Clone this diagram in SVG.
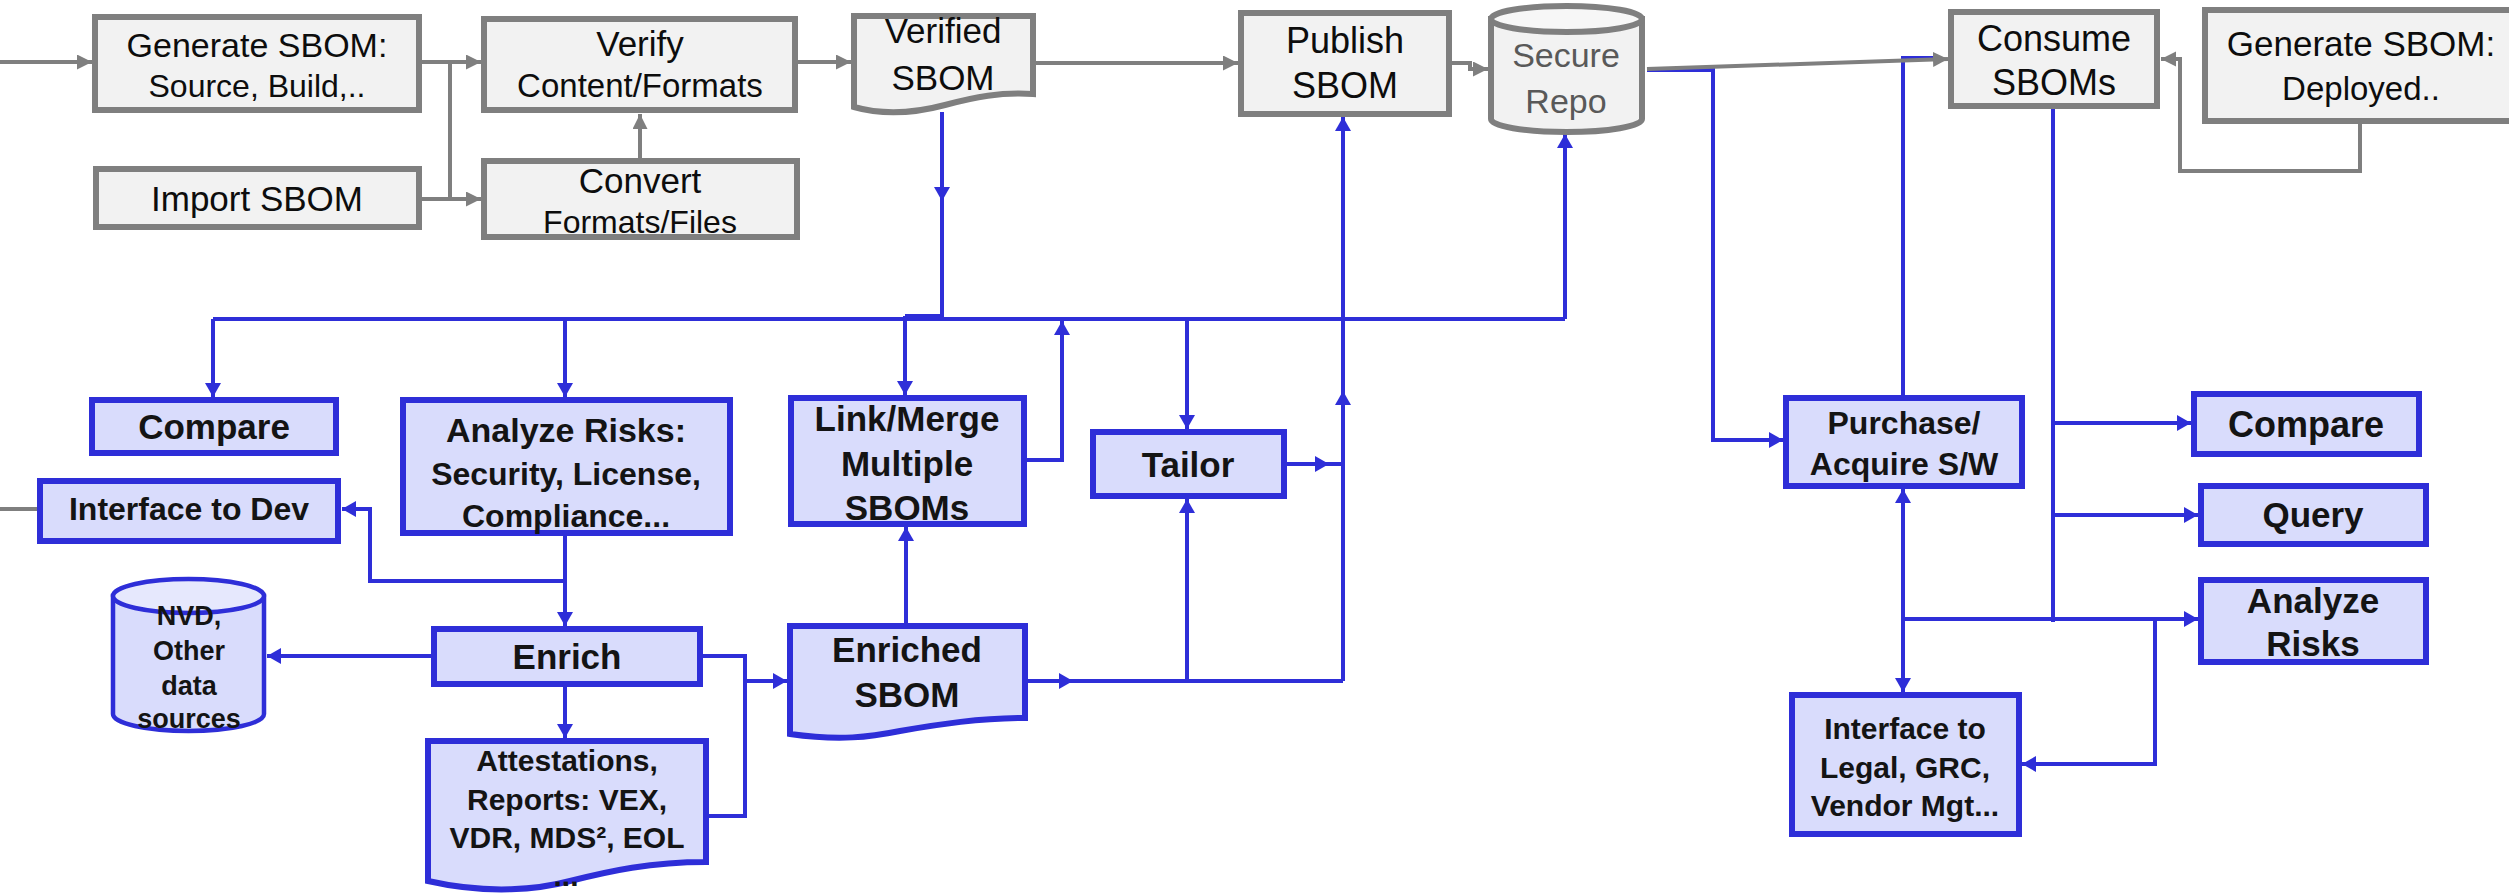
<svg xmlns="http://www.w3.org/2000/svg" width="2509" height="894" viewBox="0 0 2509 894">
  <style>
    .gbox { fill: #f2f2f2; stroke: #7f7f7f; stroke-width: 6; }
    .gtop { fill: #f7f7f7; stroke: #7f7f7f; stroke-width: 6; }
    .bbox { fill: #d9dcfc; stroke: #2e2ed8; stroke-width: 6; }
    .btop { fill: #e6e8fd; stroke: #2e2ed8; stroke-width: 4.5; }
    .bcyl { fill: #d9dcfc; stroke: #2e2ed8; stroke-width: 4.5; }
    .gt { font-family: "Liberation Sans", Arial, sans-serif; fill: #0d0d0d; text-anchor: middle; }
    .gs { font-family: "Liberation Sans", Arial, sans-serif; fill: #595959; text-anchor: middle; }
    .bt { font-family: "Liberation Sans", Arial, sans-serif; font-weight: bold; fill: #141414; text-anchor: middle; }
    .gl { fill: none; stroke: #7f7f7f; stroke-width: 4; }
    .bl { fill: none; stroke: #2e2ed8; stroke-width: 4; }
    .ga { marker-end: url(#gArrow); }
    .ba { marker-end: url(#bArrow); }
  </style>
  <defs>
    <marker id="gArrow" markerUnits="userSpaceOnUse" markerWidth="16" markerHeight="16" refX="15" refY="7.5" orient="auto">
      <path d="M0,0 L15,7.5 L0,15 Z" fill="#7f7f7f"/>
    </marker>
    <marker id="bArrow" markerUnits="userSpaceOnUse" markerWidth="16" markerHeight="18" refX="14" refY="8" orient="auto">
      <path d="M0,0 L14,8 L0,16 Z" fill="#2e2ed8"/>
    </marker>
    <marker id="bArrowStart" markerUnits="userSpaceOnUse" markerWidth="16" markerHeight="18" refX="0" refY="8" orient="auto">
      <path d="M14,0 L0,8 L14,16 Z" fill="#2e2ed8"/>
    </marker>
  </defs>

  <!-- connectors -->
  <g id="connectors">
    <!-- gray flow: produce, verify, publish, consume -->
    <path class="gl ga" d="M0,62 H92"/>
    <path class="gl ga" d="M422,62 H481"/>
    <path class="gl ga" d="M422,199 H481"/>
    <path class="gl" d="M450,62 V199"/>
    <path class="gl ga" d="M640,158 V114"/>
    <path class="gl ga" d="M798,62 H851"/>
    <path class="gl ga" d="M1036,63 H1238"/>
    <path class="gl ga" d="M1452,63 H1470 V69 H1488"/>
    <path class="gl" d="M0,509 H38"/>

    <!-- blue flow: analysis bus -->
    <path class="bl ba" d="M942,112 V201"/>
    <path class="bl" d="M942,199 V319"/>
    <path class="bl" d="M213,319 H1565"/>
    <path class="bl" d="M905,316 H942"/>
    <path class="bl ba" d="M213,319 V397"/>
    <path class="bl ba" d="M565,319 V397"/>
    <path class="bl ba" d="M905,316 V395"/>
    <path class="bl ba" d="M1027,460 H1062 V321"/>
    <path class="bl ba" d="M1187,319 V429"/>
    <path class="bl ba" d="M1565,319 V134"/>
    <path class="bl ba" d="M565,536 V626"/>
    <path class="bl ba" d="M565,581 H370 V509 H342"/>
    <path class="bl ba" d="M431,656 H267"/>
    <path class="bl ba" d="M565,687 V738"/>
    <path class="bl ba" d="M703,656 H745 V681 H787"/>
    <path class="bl" d="M709,816 H745 V681"/>
    <path class="bl ba" d="M906,623 V527"/>
    <path class="bl ba" d="M1028,681 H1073"/>
    <path class="bl" d="M1070,681 H1343"/>
    <path class="bl ba" d="M1187,681 V499"/>
    <path class="bl ba" d="M1287,464 H1329"/>
    <path class="bl" d="M1326,464 H1343"/>
    <path class="bl ba" d="M1343,681 V391"/>
    <path class="bl ba" d="M1343,394 V117"/>

    <!-- repo to consumers -->
    <path class="bl ba" d="M1647,70 H1713 V440 H1783"/>
    <path class="bl" d="M1903,395 V58 H1936"/>
    <path class="gl ga" d="M1647,69 L1948,59"/>
    <path class="gl ga" d="M2360,124 V171 H2180 V59 H2161"/>
    <path class="bl" d="M2053,109 V622"/>
    <path class="bl ba" d="M2053,423 H2191"/>
    <path class="bl ba" d="M2053,515 H2198"/>
    <path class="bl ba" d="M1903,619 H2198"/>
    <path class="bl ba" d="M1903,489 V692" marker-start="url(#bArrowStart)"/>
    <path class="bl ba" d="M2155,619 V764 H2022"/>
  </g>

  <!-- gray nodes -->
  <g id="generate-source">
    <rect class="gbox" x="95" y="17" width="324" height="93"/>
    <text class="gt" x="257" y="57" font-size="34">Generate SBOM:</text>
    <text class="gt" x="257" y="97" font-size="32">Source, Build,..</text>
  </g>
  <g id="verify">
    <rect class="gbox" x="484" y="19" width="311" height="91"/>
    <text class="gt" x="640" y="56" font-size="35">Verify</text>
    <text class="gt" x="640" y="97" font-size="33">Content/Formats</text>
  </g>
  <g id="import">
    <rect class="gbox" x="96" y="169" width="323" height="58"/>
    <text class="gt" x="257" y="211" font-size="35">Import SBOM</text>
  </g>
  <g id="convert">
    <rect class="gbox" x="484" y="161" width="313" height="76"/>
    <text class="gt" x="640" y="193" font-size="35">Convert</text>
    <text class="gt" x="640" y="233" font-size="32">Formats/Files</text>
  </g>
  <g id="verified-sbom">
    <path class="gbox" d="M854,16 H1033 V94 C1000,92 975,97 945,105 C915,113 882,115 854,107 Z"/>
    <text class="gt" x="943" y="43" font-size="35">Verified</text>
    <text class="gt" x="943" y="90" font-size="35">SBOM</text>
  </g>
  <g id="publish">
    <rect class="gbox" x="1241" y="13" width="208" height="101"/>
    <text class="gt" x="1345" y="53" font-size="36">Publish</text>
    <text class="gt" x="1345" y="98" font-size="36">SBOM</text>
  </g>
  <g id="secure-repo">
    <path class="gbox" d="M1491,19 V119 A75.5,13 0 0 0 1642,119 V19 Z"/>
    <ellipse class="gtop" cx="1566.5" cy="19" rx="75.5" ry="13"/>
    <text class="gs" x="1566" y="67" font-size="34">Secure</text>
    <text class="gs" x="1566" y="113" font-size="34">Repo</text>
  </g>
  <g id="consume">
    <rect class="gbox" x="1951" y="12" width="206" height="94"/>
    <text class="gt" x="2054" y="51" font-size="36">Consume</text>
    <text class="gt" x="2054" y="95" font-size="36">SBOMs</text>
  </g>
  <g id="generate-deployed">
    <rect class="gbox" x="2205" y="10" width="312" height="111"/>
    <text class="gt" x="2361" y="56" font-size="35">Generate SBOM:</text>
    <text class="gt" x="2361" y="100" font-size="33">Deployed..</text>
  </g>

  <!-- blue nodes -->
  <g id="compare-left">
    <rect class="bbox" x="92" y="400" width="244" height="53"/>
    <text class="bt" x="214" y="439" font-size="35">Compare</text>
  </g>
  <g id="interface-dev">
    <rect class="bbox" x="40" y="481" width="298" height="60"/>
    <text class="bt" x="189" y="520" font-size="32">Interface to Dev</text>
  </g>
  <g id="analyze-left">
    <rect class="bbox" x="403" y="400" width="327" height="133"/>
    <text class="bt" x="566" y="442" font-size="34">Analyze Risks:</text>
    <text class="bt" x="566" y="485" font-size="32">Security, License,</text>
    <text class="bt" x="566" y="527" font-size="32">Compliance...</text>
  </g>
  <g id="nvd">
    <path class="bcyl" d="M113,596 V714 A75.5,17 0 0 0 264,714 V596 Z"/>
    <ellipse class="btop" cx="188.5" cy="596" rx="75.5" ry="17"/>
    <text class="bt" x="189" y="625" font-size="27">NVD,</text>
    <text class="bt" x="189" y="660" font-size="27">Other</text>
    <text class="bt" x="189" y="695" font-size="27">data</text>
    <text class="bt" x="189" y="728" font-size="27">sources</text>
  </g>
  <g id="enrich">
    <rect class="bbox" x="434" y="629" width="266" height="55"/>
    <text class="bt" x="567" y="669" font-size="35">Enrich</text>
  </g>
  <g id="attestations">
    <path class="bbox" d="M428,741 H706 V862 C650,862 610,871 570,881 C540,889 490,895 428,881 Z"/>
    <text class="bt" x="567" y="771" font-size="30">Attestations,</text>
    <text class="bt" x="567" y="810" font-size="30">Reports: VEX,</text>
    <text class="bt" x="567" y="848" font-size="30">VDR, MDS², EOL</text>
    <text class="bt" x="566" y="886" font-size="30">...</text>
  </g>
  <g id="link-merge">
    <rect class="bbox" x="791" y="398" width="233" height="126"/>
    <text class="bt" x="907" y="431" font-size="35">Link/Merge</text>
    <text class="bt" x="907" y="476" font-size="35">Multiple</text>
    <text class="bt" x="907" y="520" font-size="35">SBOMs</text>
  </g>
  <g id="enriched-sbom">
    <path class="bbox" d="M790,626 H1025 V718 C980,718 940,724 900,731 C870,737 840,741 790,734 Z"/>
    <text class="bt" x="907" y="662" font-size="35">Enriched</text>
    <text class="bt" x="907" y="707" font-size="35">SBOM</text>
  </g>
  <g id="tailor">
    <rect class="bbox" x="1093" y="432" width="191" height="64"/>
    <text class="bt" x="1188" y="477" font-size="35">Tailor</text>
  </g>
  <g id="purchase">
    <rect class="bbox" x="1786" y="398" width="236" height="88"/>
    <text class="bt" x="1904" y="434" font-size="32">Purchase/</text>
    <text class="bt" x="1904" y="475" font-size="32">Acquire S/W</text>
  </g>
  <g id="compare-right">
    <rect class="bbox" x="2194" y="394" width="225" height="60"/>
    <text class="bt" x="2306" y="437" font-size="36">Compare</text>
  </g>
  <g id="query">
    <rect class="bbox" x="2201" y="486" width="225" height="58"/>
    <text class="bt" x="2313" y="527" font-size="35">Query</text>
  </g>
  <g id="analyze-right">
    <rect class="bbox" x="2201" y="580" width="225" height="82"/>
    <text class="bt" x="2313" y="613" font-size="35">Analyze</text>
    <text class="bt" x="2313" y="656" font-size="35">Risks</text>
  </g>
  <g id="interface-legal">
    <rect class="bbox" x="1792" y="695" width="227" height="139"/>
    <text class="bt" x="1905" y="739" font-size="30">Interface to</text>
    <text class="bt" x="1905" y="778" font-size="30">Legal, GRC,</text>
    <text class="bt" x="1905" y="816" font-size="30">Vendor Mgt...</text>
  </g>
</svg>
